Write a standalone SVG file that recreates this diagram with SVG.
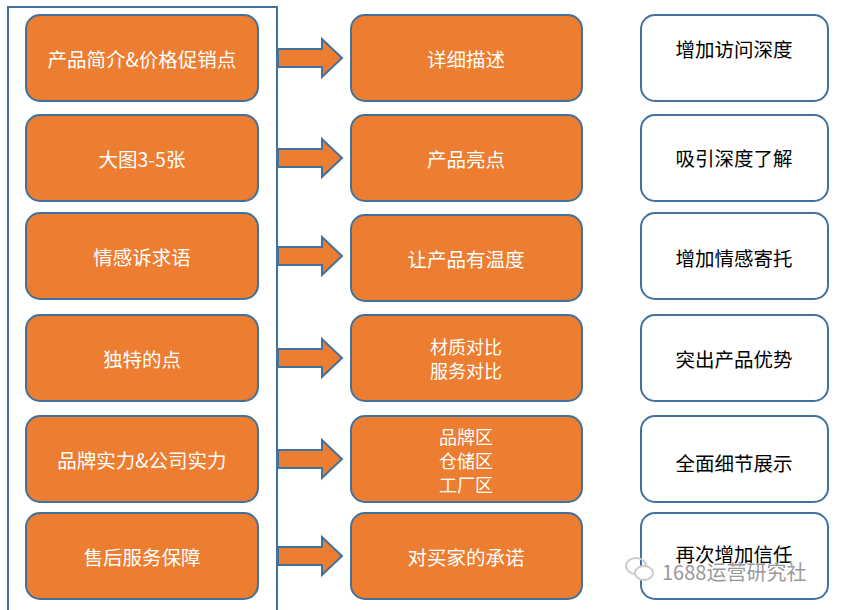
<svg xmlns="http://www.w3.org/2000/svg" width="842" height="610" viewBox="0 0 842 610">
<style>
.o{fill:#ED7D31;stroke:#41719C;stroke-width:2}
.w{fill:#fff;stroke:#41719C;stroke-width:2}
.t{font-family:"Noto Sans CJK SC","Liberation Sans",sans-serif;font-size:19.5px;text-anchor:middle;dominant-baseline:central}
.s{font-size:18px}
.tw{fill:#fff}
.tb{fill:#000}
.ar{fill:#ED7D31;stroke:#41719C;stroke-width:2}
</style>
<rect width="842" height="610" fill="#fff"/>
<rect x="8" y="7" width="269" height="610" fill="#fff" stroke="#41719C" stroke-width="2"/>
<g id="connectors">
<path class="ar" d="M278 49H322V39L342 58L322 77V67H278Z"/>
<path class="ar" d="M278 149H322V139L342 158L322 177V167H278Z"/>
<path class="ar" d="M278 247H322V237L342 256L322 275V265H278Z"/>
<path class="ar" d="M278 349H322V339L342 358L322 377V367H278Z"/>
<path class="ar" d="M278 450H322V440L342 459L322 478V468H278Z"/>
<path class="ar" d="M278 547H322V537L342 556L322 575V565H278Z"/>
</g>
<g id="l1"><rect class="o" x="26" y="15" width="232" height="86" rx="14"/><text class="t tw" x="142" y="58">产品简介&amp;价格促销点</text></g>
<g id="l2"><rect class="o" x="26" y="115" width="232" height="86" rx="14"/><text class="t tw" x="142" y="158">大图3-5张</text></g>
<g id="l3"><rect class="o" x="26" y="213" width="232" height="86" rx="14"/><text class="t tw" x="142" y="256">情感诉求语</text></g>
<g id="l4"><rect class="o" x="26" y="315" width="232" height="86" rx="14"/><text class="t tw" x="142" y="358">独特的点</text></g>
<g id="l5"><rect class="o" x="26" y="416" width="232" height="86" rx="14"/><text class="t tw" x="142" y="459">品牌实力&amp;公司实力</text></g>
<g id="l6"><rect class="o" x="26" y="513" width="232" height="86" rx="14"/><text class="t tw" x="142" y="556">售后服务保障</text></g>
<g id="m1"><rect class="o" x="351" y="15" width="231" height="86" rx="14"/><text class="t tw" x="466" y="58">详细描述</text></g>
<g id="m2"><rect class="o" x="351" y="115" width="231" height="86" rx="14"/><text class="t tw" x="466" y="158">产品亮点</text></g>
<g id="m3"><rect class="o" x="351" y="215" width="231" height="86" rx="14"/><text class="t tw" x="466" y="258">让产品有温度</text></g>
<g id="m4"><rect class="o" x="351" y="315" width="231" height="86" rx="14"/><text class="t s tw" x="466" y="346">材质对比</text><text class="t s tw" x="466" y="370">服务对比</text></g>
<g id="m5"><rect class="o" x="351" y="416" width="231" height="86" rx="14"/><text class="t s tw" x="466" y="436">品牌区</text><text class="t s tw" x="466" y="460">仓储区</text><text class="t s tw" x="466" y="484">工厂区</text></g>
<g id="m6"><rect class="o" x="351" y="513" width="231" height="86" rx="14"/><text class="t tw" x="466" y="556">对买家的承诺</text></g>
<g id="r1"><rect class="w" x="641" y="15" width="187" height="86" rx="14"/><text class="t tb" x="734" y="48">增加访问深度</text></g>
<g id="r2"><rect class="w" x="641" y="115" width="187" height="86" rx="14"/><text class="t tb" x="734" y="157">吸引深度了解</text></g>
<g id="r3"><rect class="w" x="641" y="213" width="187" height="86" rx="14"/><text class="t tb" x="734" y="257">增加情感寄托</text></g>
<g id="r4"><rect class="w" x="641" y="315" width="187" height="86" rx="14"/><text class="t tb" x="734" y="358">突出产品优势</text></g>
<g id="r5"><rect class="w" x="641" y="416" width="187" height="86" rx="14"/><text class="t tb" x="734" y="462">全面细节展示</text></g>
<g id="r6"><rect class="w" x="641" y="513" width="187" height="86" rx="14"/><text class="t tb" x="734" y="553">再次增加信任</text></g>
<g id="watermark">
<ellipse cx="636" cy="566" rx="10" ry="8" fill="none" stroke="#ccc" stroke-width="2"/>
<ellipse cx="644" cy="573" rx="9" ry="7" fill="#fff" stroke="#ccc" stroke-width="2"/>
<text x="662" y="580" font-family="Noto Sans CJK SC,Liberation Sans,sans-serif" font-size="20" fill="#999" stroke="#fff" stroke-width="0.6" paint-order="stroke">1688运营研究社</text>
</g>
</svg>
